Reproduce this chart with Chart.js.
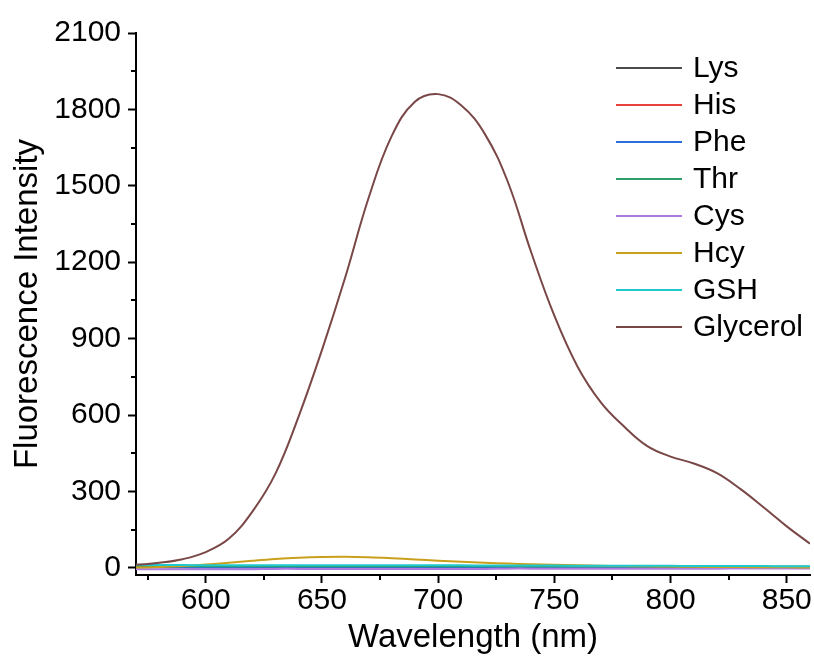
<!DOCTYPE html>
<html>
<head>
<meta charset="utf-8">
<script src="https://cdn.jsdelivr.net/npm/chart.js@4.4.0/dist/chart.umd.min.js"></script>
<style>
    html, body { margin: 0; padding: 0; background: #fff; }
    #wrap { width: 814px; height: 659px; }
</style>
</head>
<body>
<div id="wrap"><canvas id="chart-1"></canvas></div>
<script>
// wavelength (nm)
const wavelengths = [570, 580, 590, 600, 610, 620, 630, 640, 650, 660,
                     670, 680, 690, 700, 710, 720, 730, 740, 750, 760,
                     770, 780, 790, 800, 810, 820, 830, 840, 850, 860];

const lys = [3, 3, 2, 2, 2, 2, 2, 2, 2, 1, 1, 1, 1, 1, 1, 1, 1, 1, 1, 1, 1, 1, 1, 0, 0, 0, 0, 0, 0, 0];
const his = [4, 4, 3, 3, 3, 3, 3, 3, 2, 2, 2, 2, 2, 2, 2, 2, 2, 2, 2, 1, 1, 1, 1, 1, 1, 1, 1, 1, 1, 1];
const phe = [2, 2, 2, 1, 1, 1, 1, 1, 1, 1, 1, 1, 0, 0, 0, 0, 0, 0, 0, 0, 0, 0, 0, 0, 0, 0, -1, -1, -1, -1];
const thr = [7, 7, 6, 6, 6, 6, 6, 6, 6, 6, 6, 6, 6, 6, 6, 6, 6, 5, 5, 5, 5, 5, 5, 5, 4, 4, 4, 4, 4, 4];
const cys = [-5, -5, -5, -5, -5, -5, -4, -4, -4, -4, -4, -4, -4, -4, -4, -4, -3, -3, -3, -3, -3, -3, -3, -3, -3, -3, -2, -2, -2, -2];
const hcy = [1, 3, 7, 13, 20, 28, 35, 40, 43, 44, 42, 38, 33, 28, 24, 20, 17, 14, 12, 10, 8, 7, 6, 5, 4, 3, 3, 2, 2, 1];
const gsh = [12, 11, 11, 10, 10, 10, 10, 10, 10, 10, 10, 10, 10, 10, 10, 9, 9, 9, 9, 8, 8, 8, 8, 8, 7, 7, 7, 7, 6, 6];
const glycerol = [12, 20, 34, 62, 115, 220, 370, 595, 855, 1140,
                  1450, 1695, 1830, 1860, 1815, 1705, 1515, 1240, 990, 790,
                  650, 555, 478, 437, 410, 372, 310, 238, 163, 95];

const seriesNames = ['Lys', 'His', 'Phe', 'Thr', 'Cys', 'Hcy', 'GSH', 'Glycerol'];
const seriesValues = [lys, his, phe, thr, cys, hcy, gsh, glycerol];
const seriesColors = ['#4d4d4d', '#e8413a', '#2a6fdb', '#2e9e6a', '#b07be0', '#c9a01c', '#1ec8cc', '#7a4747'];

const xMajor = [600, 650, 700, 750, 800, 850];
const xMinor = [575, 625, 675, 725, 775, 825];
const yMajor = [0, 300, 600, 900, 1200, 1500, 1800, 2100];
const yMinor = [150, 450, 750, 1050, 1350, 1650, 1950];

const FONT = "'Liberation Sans', Arial, sans-serif";

const datasets = seriesNames.map(function(name, i) {
    return {
        label: name,
        data: wavelengths.map(function(w, j) { return {x: w, y: seriesValues[i][j]}; }),
        borderColor: seriesColors[i],
        backgroundColor: seriesColors[i],
        borderWidth: 2,
        pointRadius: 0,
        tension: 0.4,
        order: seriesNames.length - i
    };
});

// minor ticks + legend drawn inside the plot
const extras = {
    id: 'extras',
    afterDraw: function(chart) {
        const ctx = chart.ctx;
        const xs = chart.scales.x;
        const ys = chart.scales.y;
        const area = chart.chartArea;
        ctx.save();
        ctx.strokeStyle = '#000';
        ctx.lineWidth = 2;
        xMinor.forEach(function(v) {
            const px = Math.round(xs.getPixelForValue(v));
            ctx.beginPath();
            ctx.moveTo(px, area.bottom);
            ctx.lineTo(px, area.bottom + 5);
            ctx.stroke();
        });
        yMinor.forEach(function(v) {
            const py = Math.round(ys.getPixelForValue(v));
            ctx.beginPath();
            ctx.moveTo(area.left, py);
            ctx.lineTo(area.left - 5, py);
            ctx.stroke();
        });

        // legend
        ctx.font = '30px ' + FONT;
        ctx.textBaseline = 'middle';
        ctx.fillStyle = '#000';
        const lx = area.left + 480;
        let ly = area.top + 35;
        seriesNames.forEach(function(name, i) {
            ctx.strokeStyle = seriesColors[i];
            ctx.lineWidth = 2;
            ctx.beginPath();
            ctx.moveTo(lx, ly);
            ctx.lineTo(lx + 66, ly);
            ctx.stroke();
            ctx.fillText(name, lx + 77, ly + 1);
            ly += 37;
        });
        ctx.restore();
    }
};

const chart1 = new Chart(document.getElementById('chart-1'), {
    type: 'line',
    data: { datasets: datasets },
    options: {
        responsive: true,
        maintainAspectRatio: false,
        animation: false,
        layout: { padding: { top: 33, right: 4, left: 0, bottom: 0 } },
        plugins: {
            legend: { display: false },
            tooltip: { enabled: false }
        },
        scales: {
            x: {
                type: 'linear',
                min: 570,
                max: 860,
                afterBuildTicks: function(scale) {
                    scale.ticks = xMajor.map(function(v) { return {value: v}; });
                },
                afterFit: function(scale) { scale.height = 84; },
                grid: { drawOnChartArea: false, drawTicks: true, tickLength: 8, tickWidth: 2, tickColor: '#000' },
                border: { display: true, color: '#000', width: 2 },
                ticks: { color: '#000', font: { family: FONT, size: 30 }, padding: 0, maxRotation: 0,
                         callback: function(v) { return String(v); } },
                title: { display: true, text: 'Wavelength (nm)', color: '#000', font: { family: FONT, size: 33 }, padding: { top: 0, bottom: 1 } }
            },
            y: {
                min: -28,
                max: 2100,
                afterBuildTicks: function(scale) {
                    scale.ticks = yMajor.map(function(v) { return {value: v}; });
                },
                afterFit: function(scale) { scale.width = 136; },
                grid: { drawOnChartArea: false, drawTicks: true, tickLength: 8, tickWidth: 2, tickColor: '#000' },
                border: { display: true, color: '#000', width: 2 },
                ticks: { color: '#000', font: { family: FONT, size: 30 }, padding: 7,
                         callback: function(v) { return String(v); } },
                title: { display: true, text: 'Fluorescence Intensity', color: '#000', font: { family: FONT, size: 33 }, padding: { top: 8, bottom: 0 } }
            }
        }
    },
    plugins: [extras]
});
</script>
</body>
</html>
